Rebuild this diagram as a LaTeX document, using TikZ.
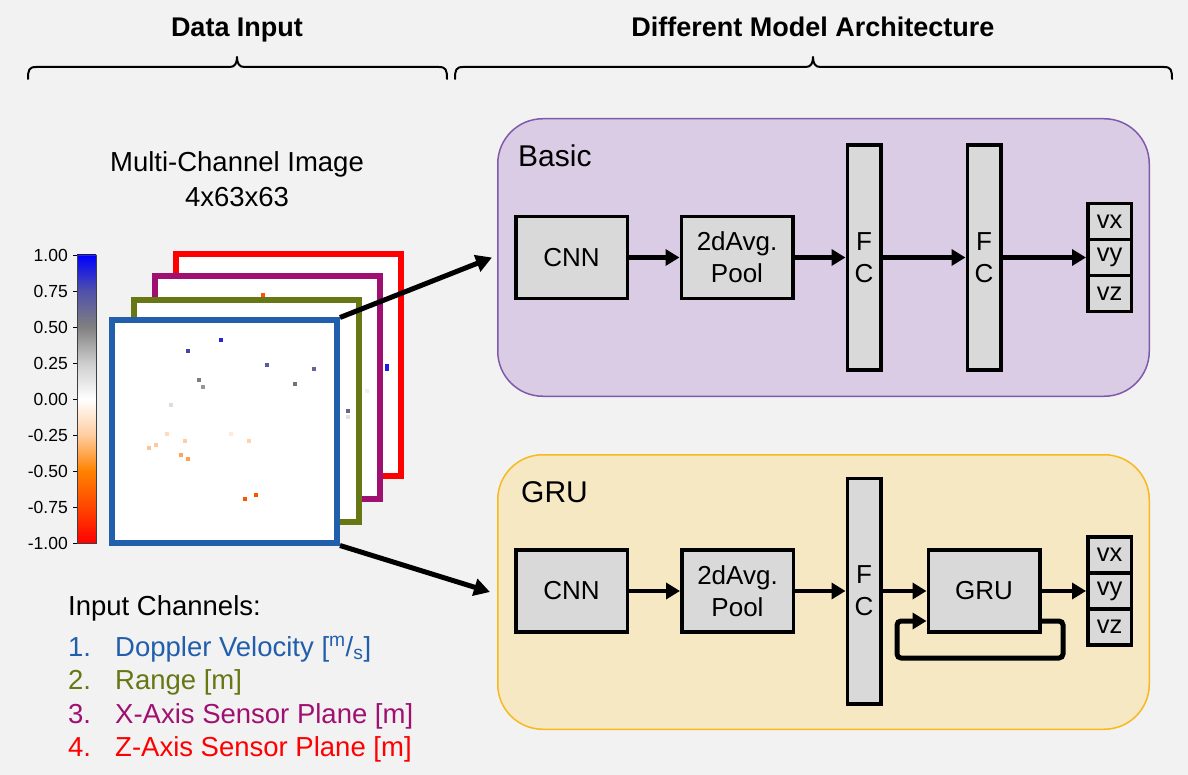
\documentclass[tikz,border=0pt]{standalone}
\usepackage{fontspec}
\setmainfont{Liberation Sans}
\usetikzlibrary{arrows.meta}
\definecolor{bg}{RGB}{242,242,242}
\definecolor{boxgray}{RGB}{217,217,217}
\definecolor{basicfill}{RGB}{217,204,228}
\definecolor{basicline}{RGB}{128,90,170}
\definecolor{grufill}{RGB}{247,232,196}
\definecolor{gruline}{RGB}{246,185,30}
\definecolor{chblue}{RGB}{33,94,172}
\definecolor{cholive}{RGB}{102,119,20}
\definecolor{chpurple}{RGB}{160,16,112}
\definecolor{chred}{RGB}{255,0,0}
\definecolor{cbA}{RGB}{255,70,0}
\definecolor{cbB}{RGB}{255,130,0}
\definecolor{cbC}{RGB}{255,205,160}
\definecolor{cbD}{RGB}{205,205,205}
\definecolor{cbE}{RGB}{128,128,128}
\definecolor{cbF}{RGB}{80,80,170}
\pgfdeclareverticalshading{cbarshade}{100bp}{color(0bp)=(red); color(25bp)=(red); color(31.25bp)=(cbA); color(37.5bp)=(cbB); color(43.75bp)=(cbC); color(50bp)=(white); color(56.25bp)=(cbD); color(62.5bp)=(cbE); color(68.75bp)=(cbF); color(75bp)=(blue); color(100bp)=(blue)}
\newcommand{\fsz}[2]{\fontsize{#1}{#2}\selectfont}
\newcommand{\radpix}[5]{\fill[fill={rgb,255:red,#3;green,#4;blue,#5}] (#1-2,#2-2) rectangle (#1+2,#2+2);}
\begin{document}
\begin{tikzpicture}[x=1pt,y=-1pt,
  blk/.style={draw=black, line width=3.5pt, fill=boxgray, inner sep=0pt, font=\fsz{26}{32}, align=center},
  fcbox/.style={blk, minimum width=33.5pt, minimum height=224.5pt},
  convbox/.style={blk, minimum width=111.5pt, minimum height=82pt},
  outbox/.style={blk, minimum width=43.5pt, minimum height=36pt, font=\fsz{25.5}{30}},
  flow/.style={line width=4.5pt, -{Triangle[length=14pt,width=16pt]}},
  feed/.style={line width=5pt, -{Triangle[length=16pt,width=17pt]}},
  chframe/.style={line width=6pt, fill=white, minimum width=225pt, minimum height=222pt, inner sep=0pt},
  panel/.style={rounded corners=45pt, line width=1.5pt, minimum width=651.5pt, minimum height=277.5pt, inner sep=0pt},
  hdr/.style={font=\bfseries\fsz{27}{32}, anchor=base},
  lbl/.style={font=\fsz{27.5}{33}},
  cbl/.style={font=\fsz{17.5}{20}, anchor=east, inner sep=0pt},
  bracepath/.style={line width=2pt, line cap=round, line join=round}]
\fill[bg] (0,0) rectangle (1188,775);
\useasboundingbox (0,0) rectangle (1188,775);

% headers and braces
\node[hdr] (hdata) at (237,37) {Data Input};
\node[hdr] (hmodel) at (813,37) {Different Model Architecture};
\draw[bracepath] (28,79) .. controls (28,70) and (29,67) .. (36,67) -- (230,67) .. controls (235,67) and (237,63) .. (237,57) .. controls (237,63) and (239,67) .. (244,67) -- (439,67) .. controls (446,67) and (447,70) .. (447,79);
\draw[bracepath] (455,79) .. controls (455,70) and (456,67) .. (463,67) -- (806,67) .. controls (811,67) and (813,63) .. (813,57) .. controls (813,63) and (815,67) .. (820,67) -- (1164,67) .. controls (1171,67) and (1172,70) .. (1172,79);

% panels
\node[panel, draw=basicline, fill=basicfill] (basicp) at (823.5,257.5) {};
\node[panel, draw=gruline, fill=grufill, minimum height=274.5pt] (grup) at (823.5,592) {};
\node[font=\fsz{30}{36}, anchor=base west, inner sep=0pt] (basiclbl) at (518,167) {Basic};
\node[font=\fsz{30}{36}, anchor=base west, inner sep=0pt] (grulbl) at (521,502) {GRU};

% basic row
\node[convbox] (cnnA) at (571.5,257.5) {CNN};
\node[convbox] (poolA) at (737,257.5) {2dAvg.\\Pool};
\node[fcbox] (fcA1) at (864,257.5) {F\\C};
\node[fcbox] (fcA2) at (984,257.5) {F\\C};
\node[outbox] (vxA) at (1109.5,221.5) {vx};
\node[outbox] (vzA) at (1109.5,293.5) {vz};
\node[outbox] (vyA) at (1109.5,257.5) {vy};
\draw[flow] (cnnA) -- (poolA);
\draw[flow] (poolA) -- (fcA1);
\draw[flow] (fcA1) -- (fcA2);
\draw[flow] (fcA2) -- (vyA);

% gru row
\node[convbox] (cnnB) at (571.5,591) {CNN};
\node[convbox] (poolB) at (737.5,591) {2dAvg.\\Pool};
\node[fcbox, minimum height=225.5pt] (fcB) at (864,591) {F\\C};
\node[convbox] (gru) at (984,591) {GRU};
\node[outbox] (vxB) at (1109.5,555) {vx};
\node[outbox] (vzB) at (1109.5,627) {vz};
\node[outbox] (vyB) at (1109.5,591) {vy};
\draw[flow] (cnnB) -- (poolB);
\draw[flow] (poolB) -- (fcB);
\draw[flow] (fcB) -- (gru);
\draw[flow] (gru) -- (vyB);
\coordinate (loopR) at (1063,658);
\coordinate (loopL) at (897,621);
\draw[flow, line width=5pt, rounded corners=4pt] ([yshift=-30pt]gru.east) -| (loopR) -| (loopL) -- ([yshift=-30pt]gru.west);

% title of image
\node[lbl, align=center, font=\fsz{27.5}{35}] (mctitle) at (237,179) {Multi-Channel Image\\4x63x63};

% colour bar
\shade[shading=cbarshade] (77,255) rectangle (96,543);
\draw[black!75, line width=0.8pt] (77,255) rectangle (96,543);
\foreach \v/\yy [count=\i] in {1.00/255, 0.75/291, 0.50/327, 0.25/363, 0.00/399, -0.25/435, -0.50/471, -0.75/507, -1.00/543}{
  \draw[black, line width=0.8pt] (73,\yy) -- (77,\yy);
  \node[cbl] (cbt\i) at (68,\yy) {\v};
}

% channel frames
\node[chframe, draw=chred] (ch4) at (288.5,365) {};
\fill[fill={rgb,255:red,30;green,30;blue,230}] (385,364) rectangle (389,371);
\node[chframe, draw=chpurple] (ch3) at (267,387.5) {};
\radpix{367}{391}{240}{240}{240}
\radpix{263}{295}{255}{80}{0}
\node[chframe, draw=cholive] (ch2) at (246.5,411) {};
\radpix{348}{411}{100}{100}{140}
\radpix{348}{417}{225}{225}{225}
\radpix{324}{430}{235}{235}{235}
\radpix{242}{320}{225}{225}{225}
\node[chframe, draw=chblue] (ch1) at (224.5,431.5) {};
\radpix{188}{351}{70}{70}{170}
\radpix{221}{340}{40}{40}{200}
\radpix{267}{365}{90}{90}{160}
\radpix{314}{369}{100}{100}{150}
\radpix{199}{380}{125}{125}{125}
\radpix{203}{387}{150}{150}{150}
\radpix{295}{384}{115}{115}{115}
\radpix{171}{405}{220}{220}{220}
\radpix{167}{434}{255}{220}{190}
\radpix{156}{445}{255}{200}{160}
\radpix{149}{448}{255}{195}{150}
\radpix{185}{441}{255}{205}{165}
\radpix{181}{455}{255}{165}{90}
\radpix{188}{459}{255}{160}{80}
\radpix{231}{434}{255}{235}{215}
\radpix{249}{441}{255}{210}{170}
\radpix{245}{499}{255}{85}{0}
\radpix{256}{495}{255}{80}{0}

% feed arrows
\draw[feed] (ch1.north east) -- ([xshift=-5pt]basicp.west);
\draw[feed] (ch1.south east) -- ([xshift=-7pt]grup.west);

% legend
\node[lbl, anchor=base west, inner sep=0pt] (legt) at (68,615) {Input Channels:};
\node[lbl, anchor=base west, inner sep=0pt, text=chblue] (leg1n) at (68,656) {1.};
\node[lbl, anchor=base west, inner sep=0pt, text=chblue] (leg1) at (115,656) {Doppler Velocity [\textsuperscript{m}/\textsubscript{s}]};
\node[lbl, anchor=base west, inner sep=0pt, text=cholive] (leg2n) at (68,689) {2.};
\node[lbl, anchor=base west, inner sep=0pt, text=cholive] (leg2) at (115,689) {Range [m]};
\node[lbl, anchor=base west, inner sep=0pt, text=chpurple] (leg3n) at (68,723) {3.};
\node[lbl, anchor=base west, inner sep=0pt, text=chpurple] (leg3) at (115,723) {X-Axis Sensor Plane [m]};
\node[lbl, anchor=base west, inner sep=0pt, text=chred] (leg4n) at (68,756) {4.};
\node[lbl, anchor=base west, inner sep=0pt, text=chred] (leg4) at (115,756) {Z-Axis Sensor Plane [m]};
\end{tikzpicture}
\end{document}
